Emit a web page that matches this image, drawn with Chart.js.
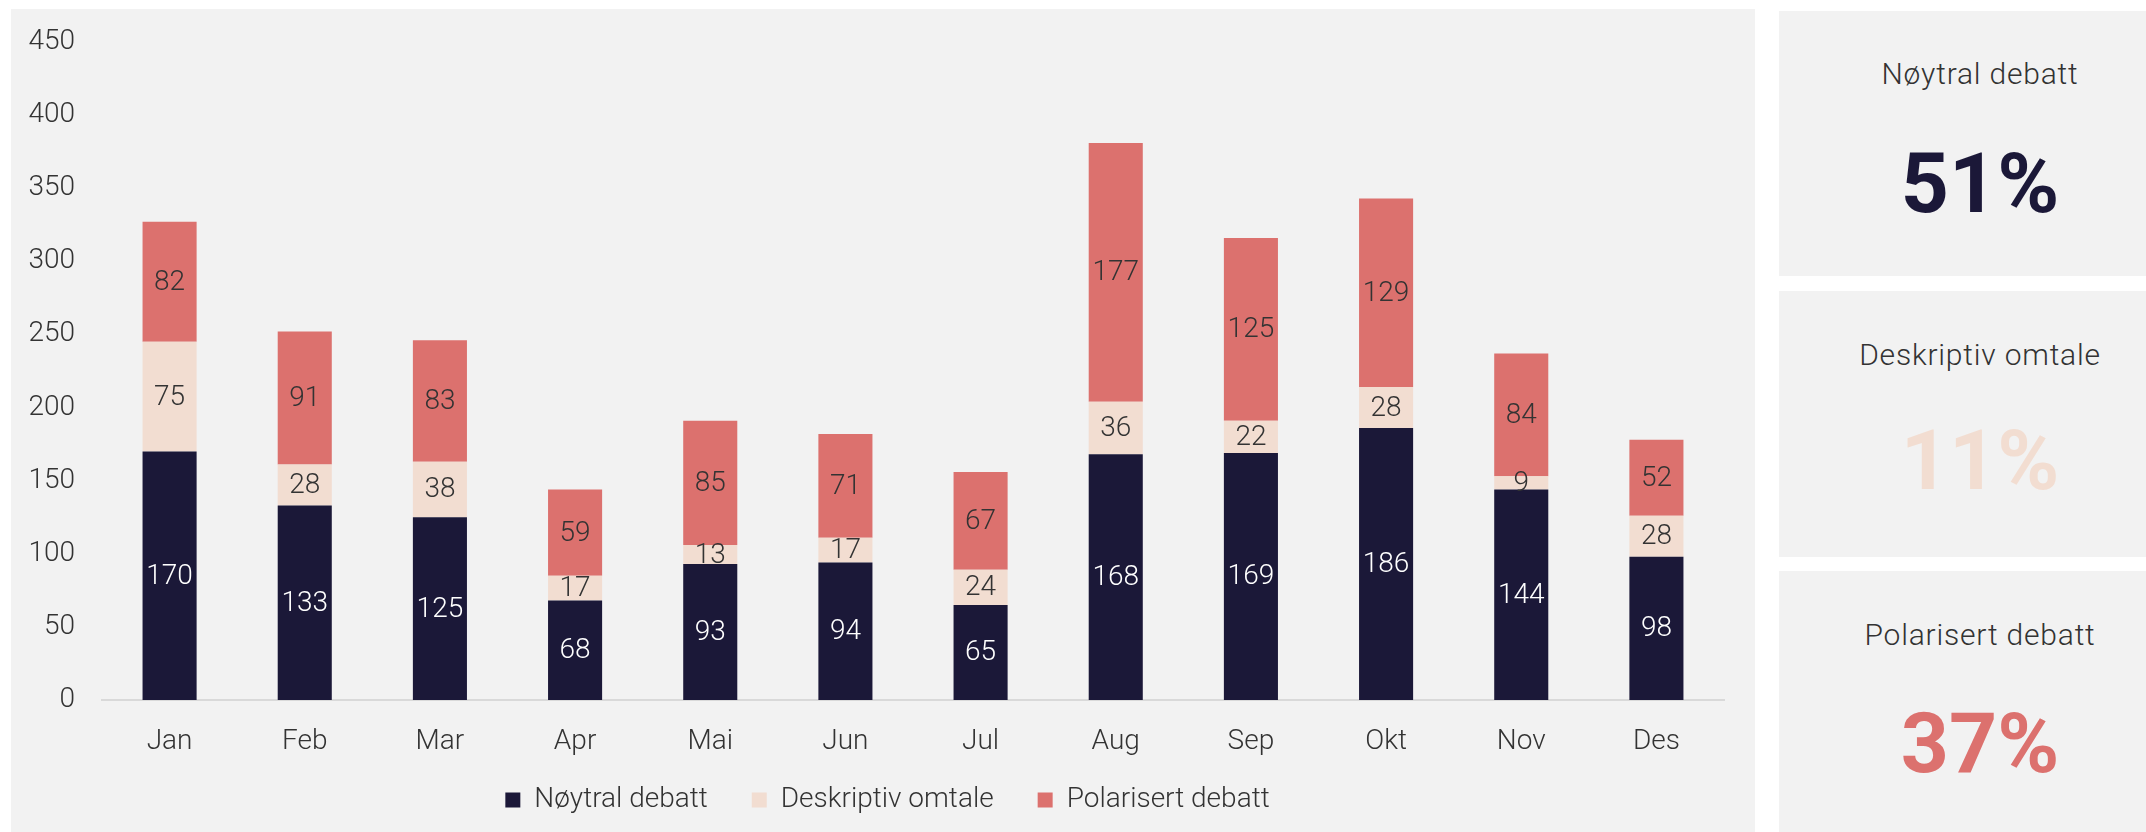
<!DOCTYPE html>
<html>
<head>
<meta charset="utf-8">
<script src="https://cdn.jsdelivr.net/npm/chart.js@4"></script>
<style>
  html, body { margin: 0; padding: 0; background: #ffffff; width: 2146px; height: 832px; overflow: hidden; font-family: Roboto, "Noto Sans", sans-serif; }
  #panel { position: absolute; left: 11px; top: 9px; width: 1744px; height: 823px; background: #f2f2f2; }
  #panel canvas { display: block; }
  .card { position: absolute; left: 1779px; width: 402px; background: #f2f2f2; }
  .card .t { position: absolute; left: 0; width: 100%; text-align: center; font-size: 30px; font-weight: 300; color: #333333; letter-spacing: 0.8px; }
  .card .v { position: absolute; left: 0; width: 100%; text-align: center; font-size: 84px; font-weight: 700; line-height: 1; }
</style>
</head>
<body>
<div id="panel"><canvas id="c" width="1744" height="823" style="width:1744px;height:823px"></canvas></div>

<div class="card" style="top:11px;height:265px">
  <div class="t" style="top:35px;line-height:56px">Nøytral debatt</div>
  <div class="v" style="top:131px;color:#1b1838">51%</div>
</div>
<div class="card" style="top:291px;height:266px">
  <div class="t" style="top:36px;line-height:56px">Deskriptiv omtale</div>
  <div class="v" style="top:128px;color:#f2ddd1">11%</div>
</div>
<div class="card" style="top:571px;height:300px">
  <div class="t" style="top:36px;line-height:56px">Polarisert debatt</div>
  <div class="v" style="top:131px;color:#dc716e">37%</div>
</div>

<script>
const months = ["Jan","Feb","Mar","Apr","Mai","Jun","Jul","Aug","Sep","Okt","Nov","Des"];
const seriesNames = ["Nøytral debatt","Deskriptiv omtale","Polarisert debatt"];
const noytral = [170,133,125,68,93,94,65,168,169,186,144,98];
const deskriptiv = [75,28,38,17,13,17,24,36,22,28,9,28];
const polarisert = [82,91,83,59,85,71,67,177,125,129,84,52];
const yTicks = [0,50,100,150,200,250,300,350,400,450];

const colors = ["#1b1838","#f2ddd1","#dc716e"];
const labelColors = ["#ffffff","#333333","#333333"];
const FONT = "Roboto";

const valueLabels = {
  id: 'valueLabels',
  afterDatasetsDraw(chart) {
    const ctx = chart.ctx;
    ctx.save();
    ctx.font = "300 28px " + FONT;
    ctx.textAlign = 'center';
    ctx.textBaseline = 'middle';
    chart.data.datasets.forEach((ds, di) => {
      const meta = chart.getDatasetMeta(di);
      meta.data.forEach((bar, i) => {
        const v = ds.data[i];
        const p = bar.getProps(['x','y','base'], true);
        ctx.fillStyle = labelColors[di];
        ctx.fillText(String(v), p.x, (p.y + p.base) / 2 + 1);
      });
    });
    ctx.restore();
  }
};

function noClip(s) { s._computeLabelArea = function () { return undefined; }; }

new Chart(document.getElementById('c'), {
  type: 'bar',
  data: {
    labels: months,
    datasets: [
      { label: seriesNames[0], data: noytral, backgroundColor: colors[0] },
      { label: seriesNames[1], data: deskriptiv, backgroundColor: colors[1] },
      { label: seriesNames[2], data: polarisert, backgroundColor: colors[2] }
    ]
  },
  options: {
    responsive: false,
    animation: false,
    devicePixelRatio: 1,
    layout: { padding: { left: 40, right: 31, top: 33, bottom: 8 } },
    datasets: { bar: { categoryPercentage: 1.0, barPercentage: 0.4, borderWidth: 0 } },
    scales: {
      x: {
        stacked: true,
        grid: { display: false, drawTicks: false },
        border: { display: true, color: '#d9d9d9', width: 2 },
        ticks: { color: '#333333', font: { family: FONT, size: 28, weight: 300 }, padding: 25, maxRotation: 0, autoSkip: false },
        afterFit(s) { s.height = 42; s.paddingLeft = 0; s.paddingRight = 0; noClip(s); }
      },
      y: {
        stacked: true,
        min: 0, max: 450,
        afterBuildTicks(s) { s.ticks = yTicks.map(v => ({ value: v })); },
        grid: { display: false, drawTicks: false },
        border: { display: false },
        ticks: { color: '#333333', font: { family: FONT, size: 28, weight: 300 }, padding: 27 },
        afterFit(s) { s.width = 51; s.paddingTop = 0; s.paddingBottom = 0; noClip(s); }
      }
    },
    plugins: {
      tooltip: { enabled: false },
      legend: {
        position: 'bottom',
        labels: {
          color: '#333333',
          font: { family: FONT, size: 28, weight: 300 },
          boxWidth: 15, boxHeight: 15,
          padding: 44
        }
      }
    }
  },
  plugins: [valueLabels]
});
</script>
</body>
</html>
